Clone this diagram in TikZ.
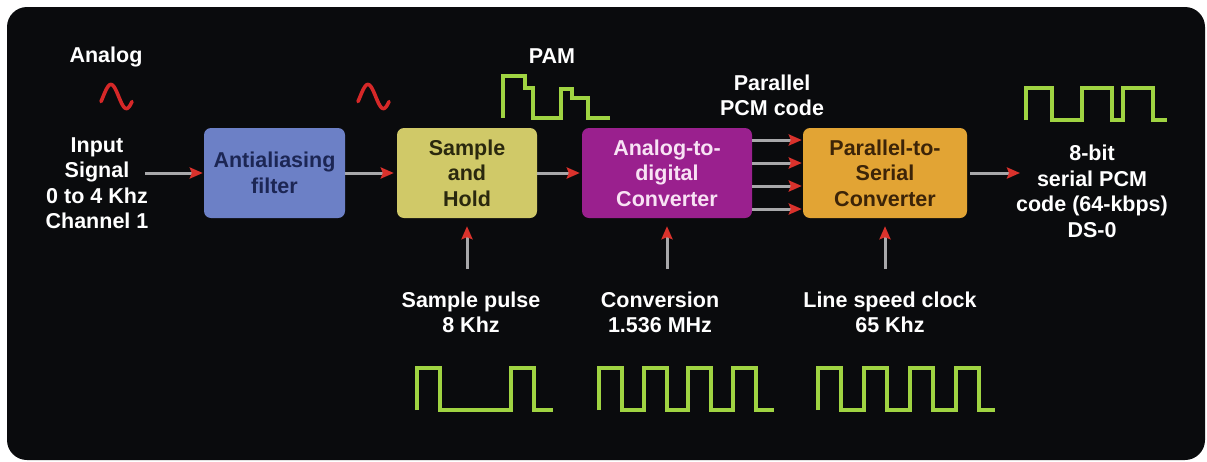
\documentclass[tikz,border=0pt]{standalone}
\usepackage{fontspec}
\setmainfont{Liberation Sans}
\usetikzlibrary{arrows.meta}

\definecolor{panel}{RGB}{10,11,13}
\definecolor{wiregray}{RGB}{168,168,170}
\definecolor{tipred}{RGB}{218,50,44}
\definecolor{sinered}{RGB}{214,40,40}
\definecolor{wavegreen}{RGB}{160,212,66}
\definecolor{aafill}{RGB}{108,128,198}
\definecolor{aatext}{RGB}{28,38,84}
\definecolor{shfill}{RGB}{208,201,104}
\definecolor{shtext}{RGB}{42,40,14}
\definecolor{adcfill}{RGB}{154,32,142}
\definecolor{adctext}{RGB}{248,226,244}
\definecolor{psfill}{RGB}{226,164,52}
\definecolor{pstext}{RGB}{60,36,8}

\tikzset{
  lbl/.style={text=white, align=center, font=\fontsize{21.5}{25.5}\selectfont\bfseries, inner sep=0pt},
  block/.style={rounded corners=7pt, minimum height=90pt, inner sep=0pt, align=center,
                font=\fontsize{21.5}{25.5}\selectfont\bfseries},
  wire/.style={draw=wiregray, line width=3pt,
               -{Stealth[length=13pt,width=11pt,inset=2pt,color=tipred]}},
  wave/.style={draw=wavegreen, line width=3.2pt, line join=miter},
  sine/.style={draw=sinered, line width=3.6pt, line cap=round},
}

\begin{document}
\begin{tikzpicture}[x=1pt, y=-1pt]
\useasboundingbox (0,0) rectangle (1207,461);
\fill[white] (0,0) rectangle (1207,461);
\fill[panel, rounded corners=20pt] (7,7) rectangle (1205,460);

% processing blocks
\node[block, fill=aafill, text=aatext, minimum width=141pt] (aa) at (274.5,173) {Antialiasing\\filter};
\node[block, fill=shfill, text=shtext, minimum width=140pt] (sh) at (467,173) {Sample\\and\\Hold};
\node[block, fill=adcfill, text=adctext, minimum width=170pt] (adc) at (667,173) {Analog-to-\\digital\\Converter};
\node[block, fill=psfill, text=pstext, minimum width=164pt] (ps) at (885,173) {Parallel-to-\\Serial\\Converter};

% labels
\node[lbl] (analog) at (106,57) {Analog};
\node[lbl] (input) at (97,183) {Input\\Signal\\0 to 4 Khz\\Channel 1};
\node[lbl] (pam) at (552,56) {PAM};
\node[lbl] (ppcm) at (772,95.5) {Parallel\\PCM code};
\node[lbl] (spcm) at (1092,191.5) {8-bit\\serial PCM\\code (64-kbps)\\DS-0};
\node[lbl] (spulse) at (471,312.5) {Sample pulse\\8 Khz};
\node[lbl] (conv) at (660,312.5) {Conversion\\1.536 MHz};
\node[lbl] (lclock) at (890,312.5) {Line speed clock\\65 Khz};

% signal path
\coordinate (inend) at (145,173);
\coordinate (outend) at (1020,173);
\draw[wire, shorten >=1pt] (inend) -- (aa.west);
\draw[wire, shorten >=3pt] (aa.east) -- (sh.west);
\draw[wire, shorten >=2pt] (sh.east) -- (adc.west);
\foreach \yy in {140,163,186,209}
  \draw[wire, shorten >=1pt] (adc.east |- 0,\yy) -- (ps.west |- 0,\yy);
\draw[wire, shorten <=3pt] (ps.east) -- (outend);

% clock inputs
\coordinate (shclk) at (sh.south |- 0,269);
\coordinate (adcclk) at (adc.south |- 0,269);
\coordinate (psclk) at (ps.south |- 0,269);
\draw[wire, shorten >=8pt] (shclk) -- (sh.south);
\draw[wire, shorten >=8pt] (adcclk) -- (adc.south);
\draw[wire, shorten >=8pt] (psclk) -- (ps.south);

% analog sine symbols
\draw[sine] plot[domain=-25:335, samples=60, smooth] ({101+(\x+25)/360*31}, {96.5-12*sin(\x)});
\draw[sine] plot[domain=-25:335, samples=60, smooth] ({358+(\x+25)/360*31}, {96.5-12*sin(\x)});

% PAM waveform
\draw[wave] (503,118) -- (503,76) -- (525,76) -- (525,88) -- (533,88) -- (533,118)
  -- (561,118) -- (561,89) -- (572,89) -- (572,98) -- (588,98) -- (588,118) -- (610,118);

% serial PCM waveform
\draw[wave] (1026,120) -- (1026,88) -- (1052,88) -- (1052,120) -- (1082,120) -- (1082,88)
  -- (1112,88) -- (1112,120) -- (1123,120) -- (1123,88) -- (1153,88) -- (1153,120) -- (1167,120);

% sample pulse
\draw[wave] (417,410) -- (417,368) -- (440,368) -- (440,410) -- (511,410) -- (511,368)
  -- (534,368) -- (534,410) -- (553,410);

% conversion clock
\draw[wave] (599,410) -- (599,368) -- (622,368) -- (622,410) -- (644,410) -- (644,368)
  -- (667,368) -- (667,410) -- (688,410) -- (688,368) -- (711,368) -- (711,410)
  -- (733,410) -- (733,368) -- (756,368) -- (756,410) -- (774,410);

% line speed clock
\draw[wave] (818,410) -- (818,368) -- (841,368) -- (841,410) -- (864,410) -- (864,368)
  -- (887,368) -- (887,410) -- (910,410) -- (910,368) -- (933,368) -- (933,410)
  -- (956,410) -- (956,368) -- (979,368) -- (979,410) -- (995,410);
\end{tikzpicture}
\end{document}
